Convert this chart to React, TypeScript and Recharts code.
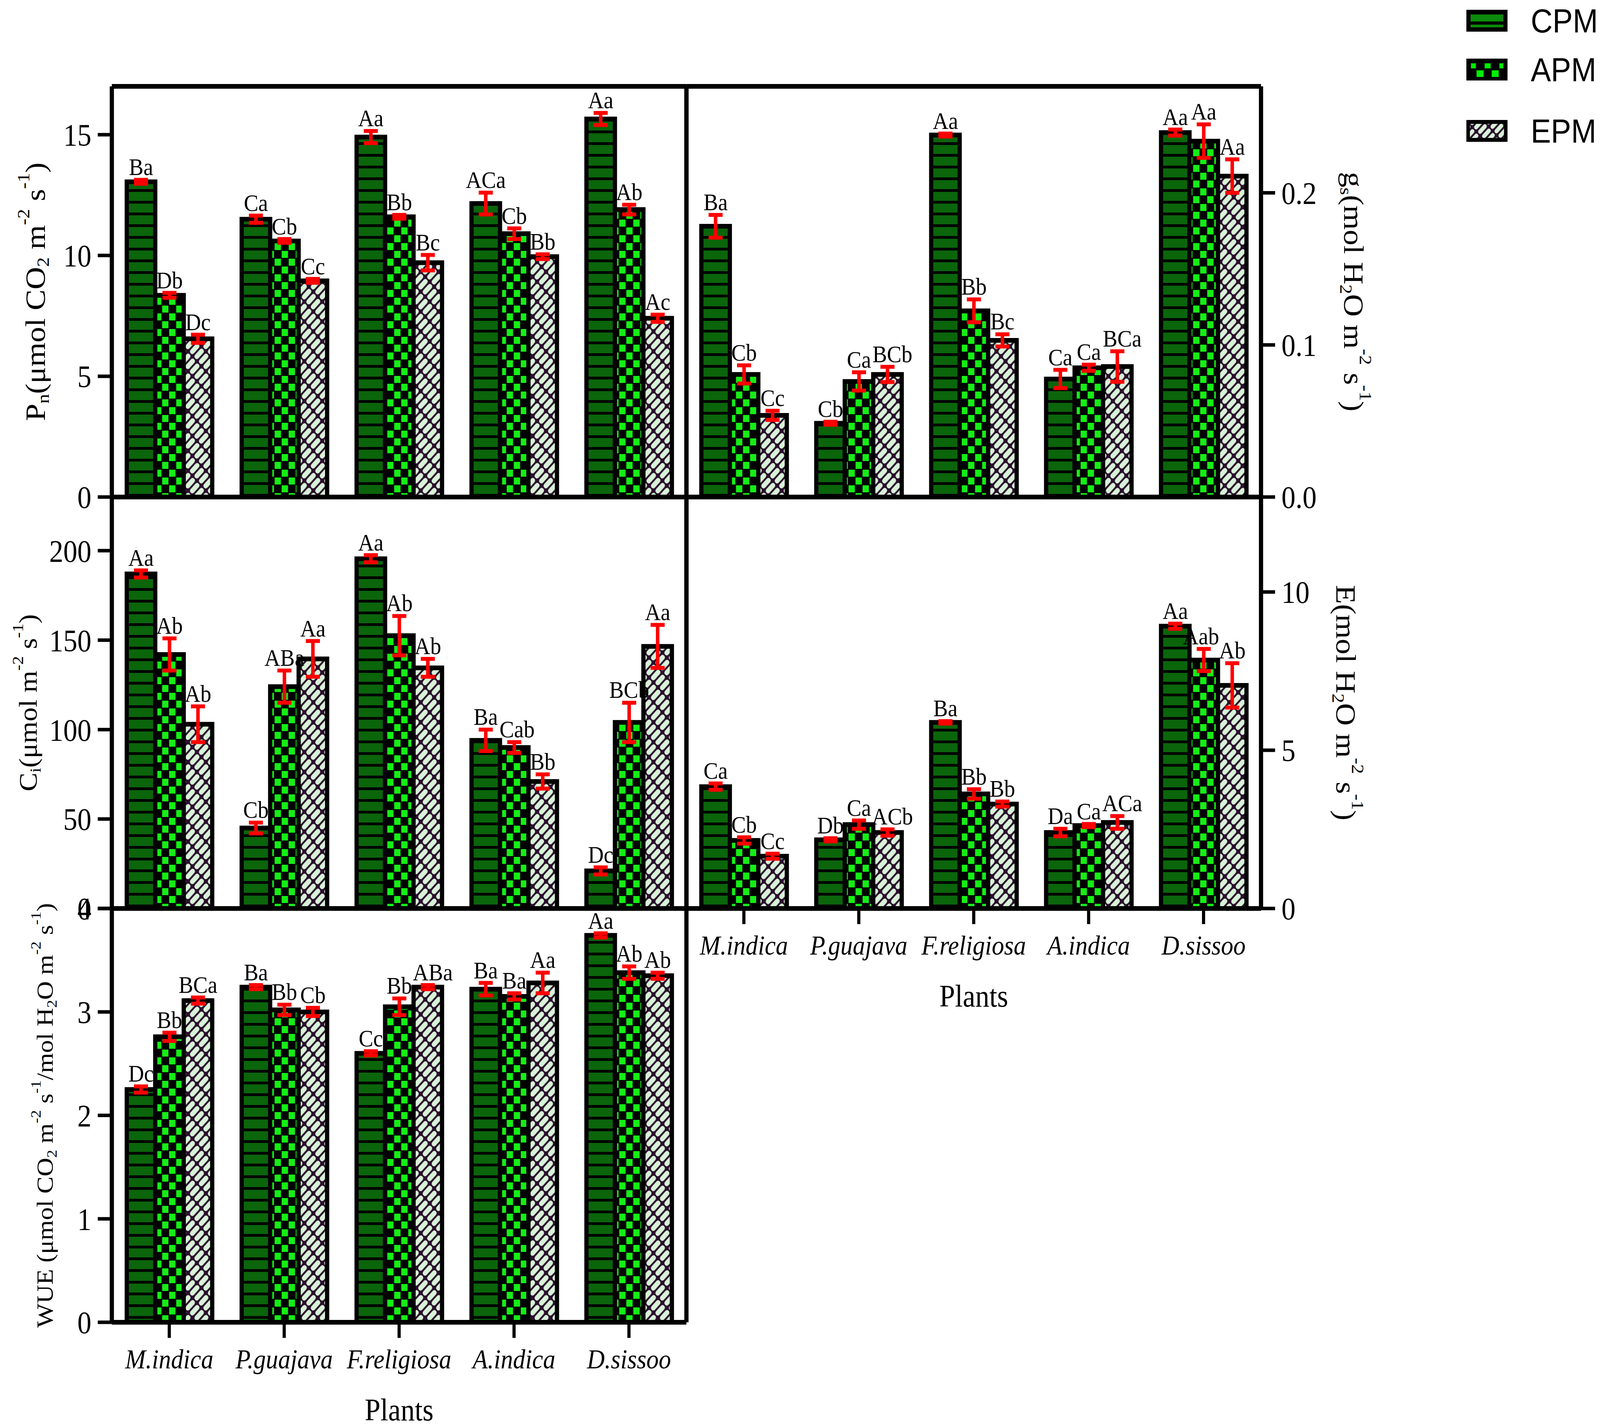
import React from "react";
import { BarChart, Bar, XAxis, YAxis, ErrorBar, LabelList, Legend } from "recharts";

// ---- data ----
const PLANTS = ["M.indica", "P.guajava", "F.religiosa", "A.indica", "D.sissoo"];
const SERIES = [
  { key: "cpm", name: "CPM" },
  { key: "apm", name: "APM" },
  { key: "epm", name: "EPM" },
];

// Pn
const PN_CPM = [13.05, 11.5, 14.9, 12.15, 15.65];
const PN_APM = [8.35, 10.6, 11.6, 10.9, 11.9];
const PN_EPM = [6.55, 8.95, 9.7, 9.95, 7.4];
const PN_CPM_ERR = [0.08, 0.15, 0.25, 0.45, 0.25];
const PN_APM_ERR = [0.1, 0.08, 0.08, 0.22, 0.2];
const PN_EPM_ERR = [0.17, 0.08, 0.32, 0.1, 0.15];
const PN_CPM_LBL = ["Ba", "Ca", "Aa", "ACa", "Aa"];
const PN_APM_LBL = ["Db", "Cb", "Bb", "Cb", "Ab"];
const PN_EPM_LBL = ["Dc", "Cc", "Bc", "Bb", "Ac"];

// gs
const GS_CPM = [0.178, 0.0485, 0.238, 0.0776, 0.2396];
const GS_APM = [0.0806, 0.076, 0.1224, 0.085, 0.234];
const GS_EPM = [0.0537, 0.0806, 0.103, 0.0858, 0.211];
const GS_CPM_ERR = [0.0075, 0.001, 0.001, 0.006, 0.002];
const GS_APM_ERR = [0.006, 0.006, 0.0075, 0.002, 0.011];
const GS_EPM_ERR = [0.003, 0.005, 0.004, 0.01, 0.011];
const GS_CPM_LBL = ["Ba", "Cb", "Aa", "Ca", "Aa"];
const GS_APM_LBL = ["Cb", "Ca", "Bb", "Ca", "Aa"];
const GS_EPM_LBL = ["Cc", "BCb", "Bc", "BCa", "Aa"];

// Ci
const CI_CPM = [187, 45, 195.5, 94, 21];
const CI_APM = [142, 124, 152.5, 90, 104];
const CI_EPM = [103, 139.5, 134.5, 71, 146.5];
const CI_CPM_ERR = [2, 3, 2, 6, 2];
const CI_APM_ERR = [9, 9, 11, 3, 11];
const CI_EPM_ERR = [10, 10, 5, 4, 12];
const CI_CPM_LBL = ["Aa", "Cb", "Aa", "Ba", "Dc"];
const CI_APM_LBL = ["Ab", "ABa", "Ab", "Cab", "BCb"];
const CI_EPM_LBL = ["Ab", "Aa", "Ab", "Bb", "Aa"];

// E
const E_CPM = [3.85, 2.17, 5.88, 2.4, 8.92];
const E_APM = [2.15, 2.65, 3.62, 2.62, 7.85];
const E_EPM = [1.65, 2.4, 3.3, 2.72, 7.05];
const E_CPM_ERR = [0.1, 0.05, 0.04, 0.12, 0.08];
const E_APM_ERR = [0.1, 0.13, 0.15, 0.05, 0.35];
const E_EPM_ERR = [0.08, 0.1, 0.08, 0.2, 0.7];
const E_CPM_LBL = ["Ca", "Db", "Ba", "Da", "Aa"];
const E_APM_LBL = ["Cb", "Ca", "Bb", "Ca", "Aab"];
const E_EPM_LBL = ["Cc", "ACb", "Bb", "ACa", "Ab"];

// WUE
const WUE_CPM = [2.25, 3.24, 2.6, 3.22, 3.74];
const WUE_APM = [2.76, 3.02, 3.05, 3.15, 3.38];
const WUE_EPM = [3.11, 3.0, 3.24, 3.28, 3.35];
const WUE_CPM_ERR = [0.03, 0.02, 0.02, 0.06, 0.02];
const WUE_APM_ERR = [0.04, 0.05, 0.08, 0.03, 0.06];
const WUE_EPM_ERR = [0.03, 0.04, 0.02, 0.1, 0.03];
const WUE_CPM_LBL = ["Dc", "Ba", "Cc", "Ba", "Aa"];
const WUE_APM_LBL = ["Bb", "Bb", "Bb", "Ba", "Ab"];
const WUE_EPM_LBL = ["BCa", "Cb", "ABa", "Aa", "Ab"];

const PN_TICKS = [0, 5, 10, 15];
const GS_TICKS = [0, 0.1, 0.2];
const CI_TICKS = [0, 50, 100, 150, 200];
const E_TICKS = [0, 5, 10];
const WUE_TICKS = [0, 1, 2, 3, 4];

type Seg = [string, ("sub" | "sup")?];
const PN_TITLE: Seg[] = [["P"], ["n", "sub"], ["(μmol CO"], ["2", "sub"], [" m"], ["-2", "sup"], [" s"], ["-1", "sup"], [")"]];
const GS_TITLE: Seg[] = [["g"], ["s", "sub"], ["(mol H"], ["2", "sub"], ["O m"], ["-2", "sup"], [" s"], ["-1", "sup"], [")"]];
const CI_TITLE: Seg[] = [["C"], ["i", "sub"], ["(μmol m"], ["-2", "sup"], [" s"], ["-1", "sup"], [")"]];
const E_TITLE: Seg[] = [["E(mol H"], ["2", "sub"], ["O m"], ["-2", "sup"], [" s"], ["-1", "sup"], [")"]];
const WUE_TITLE: Seg[] = [
  ["WUE (μmol CO"], ["2", "sub"], [" m"], ["-2", "sup"], [" s"], ["-1", "sup"],
  ["/mol H"], ["2", "sub"], ["O m"], ["-2", "sup"], [" s"], ["-1", "sup"], [")"],
];

function buildRows(vals: number[][], errs: number[][], lbls: string[][]) {
  return PLANTS.map((plant, i) => ({
    plant,
    cpm: vals[0][i], apm: vals[1][i], epm: vals[2][i],
    cpmErr: errs[0][i], apmErr: errs[1][i], epmErr: errs[2][i],
    cpmLbl: lbls[0][i], apmLbl: lbls[1][i], epmLbl: lbls[2][i],
  }));
}

const PN_ROWS = buildRows([PN_CPM, PN_APM, PN_EPM], [PN_CPM_ERR, PN_APM_ERR, PN_EPM_ERR], [PN_CPM_LBL, PN_APM_LBL, PN_EPM_LBL]);
const GS_ROWS = buildRows([GS_CPM, GS_APM, GS_EPM], [GS_CPM_ERR, GS_APM_ERR, GS_EPM_ERR], [GS_CPM_LBL, GS_APM_LBL, GS_EPM_LBL]);
const CI_ROWS = buildRows([CI_CPM, CI_APM, CI_EPM], [CI_CPM_ERR, CI_APM_ERR, CI_EPM_ERR], [CI_CPM_LBL, CI_APM_LBL, CI_EPM_LBL]);
const E_ROWS = buildRows([E_CPM, E_APM, E_EPM], [E_CPM_ERR, E_APM_ERR, E_EPM_ERR], [E_CPM_LBL, E_APM_LBL, E_EPM_LBL]);
const WUE_ROWS = buildRows([WUE_CPM, WUE_APM, WUE_EPM], [WUE_CPM_ERR, WUE_APM_ERR, WUE_EPM_ERR], [WUE_CPM_LBL, WUE_APM_LBL, WUE_EPM_LBL]);

// ---- layout / style ----
const W = 4550;
const H = 3652;
const LEFT_X0 = 318;
const MID_X = 1952;
const RIGHT_X1 = 3586;
const TOP_Y = 221;
const ROW1_Y = 1272;
const ROW2_Y = 2325;
const BOTTOM_Y = 3384;
const PAD = 60;
const X_AXIS_H = 300;
const LETTER_SIZE = 62;

const SERIF = '"Liberation Serif", "Times New Roman", serif';
const SANS = '"Liberation Sans", Arial, sans-serif';
const DARK_GREEN = "#0b650b";
const BRIGHT_GREEN = "#16ee16";
const MINT = "#d8f2d8";
const HATCH_DARK = "#2a0f2c";
const AXIS_LINE = { stroke: "#000", strokeWidth: 12 };
const TICK_LINE = { stroke: "#000", strokeWidth: 9 };

function AxisTitle({ cx, cy, rot, size, segs }: { cx: number; cy: number; rot: number; size: number; segs: Seg[] }) {
  let shift = 0;
  const spans = segs.map(([t, k], i) => {
    const target = k === "sub" ? 0.28 * size : k === "sup" ? -0.42 * size : 0;
    const dy = target - shift;
    shift = target;
    return (
      <tspan key={i} dy={dy} fontSize={k ? size * 0.62 : size}>
        {t}
      </tspan>
    );
  });
  return (
    <text
      transform={`translate(${cx},${cy}) rotate(${rot})`}
      textAnchor="middle"
      dominantBaseline="central"
      fontFamily={SERIF}
      fill="#000"
    >
      {spans}
    </text>
  );
}

function PlantsTitle({ cx, cy }: { cx: number; cy: number }) {
  return (
    <text x={cx} y={cy} textAnchor="middle" dominantBaseline="central" fontFamily={SERIF} fontSize={80} fill="#000">
      Plants
    </text>
  );
}

function Patterns({ id }: { id: string }) {
  return (
    <defs>
      <pattern id={`${id}-cpm`} width={20} height={30} patternUnits="userSpaceOnUse">
        <rect width={20} height={30} fill="#000" />
        <rect width={20} height={23} fill={DARK_GREEN} />
      </pattern>
      <pattern id={`${id}-apm`} width={40} height={40} patternUnits="userSpaceOnUse">
        <rect width={40} height={40} fill="#000" />
        <rect x={1} y={1} width={18} height={18} fill={BRIGHT_GREEN} />
        <rect x={21} y={21} width={18} height={18} fill={BRIGHT_GREEN} />
      </pattern>
      <pattern id={`${id}-epm`} width={36} height={18} patternUnits="userSpaceOnUse" patternTransform="rotate(-45)">
        <rect width={36} height={18} fill={HATCH_DARK} />
        <rect x={2} y={2.5} width={32} height={13} rx={6} fill={MINT} />
      </pattern>
    </defs>
  );
}

const LEGEND_LEFT = 4150;
const LEGEND_ROW_Y = [25, 150, 307];

function LegendBox() {
  return (
    <svg width={400} height={380} style={{ display: "block", overflow: "visible" }}>
      <defs>
        <pattern id="lg-epm" width={34} height={16} patternUnits="userSpaceOnUse" patternTransform="rotate(-45)">
          <rect width={34} height={16} fill={HATCH_DARK} />
          <rect x={2} y={2.5} width={30} height={11} rx={5} fill={MINT} />
        </pattern>
      </defs>
      {SERIES.map((s, i) => {
        const y = LEGEND_ROW_Y[i];
        return (
          <g key={s.key}>
            <rect x={20} y={y} width={117} height={56} fill="#000" />
            {s.key === "cpm" && (
              <g>
                <rect x={32} y={y + 12} width={93} height={18} fill="#0c8a0c" />
                <rect x={32} y={y + 38} width={93} height={7} fill="#0c8a0c" />
              </g>
            )}
            {s.key === "apm" && (
              <g fill="#00f000">
                <rect x={33} y={y + 12} width={14} height={13} />
                <rect x={72} y={y + 12} width={17} height={13} />
                <rect x={114} y={y + 12} width={11} height={13} />
                <rect x={49} y={y + 30} width={20} height={17} />
                <rect x={92} y={y + 30} width={20} height={17} />
              </g>
            )}
            {s.key === "epm" && <rect x={30} y={y + 10} width={97} height={36} fill="url(#lg-epm)" />}
            <text x={203} y={y + 28} dominantBaseline="central" fontFamily={SANS} fontSize={86} fill="#000">
              {s.name}
            </text>
          </g>
        );
      })}
    </svg>
  );
}

type Row = ReturnType<typeof buildRows>[number];
type Key = "cpm" | "apm" | "epm";

interface PanelProps {
  id: string;
  rows: Row[];
  max: number;
  ticks: number[];
  fmt?: (v: number) => string;
  side: "left" | "right";
  x0: number;
  x1: number;
  y0: number;
  y1: number;
  topBorder?: boolean;
  showX?: boolean;
  title: Seg[];
  titleX: number;
  titleSize: number;
  legend?: boolean;
}

function Panel({ id, rows, max, ticks, fmt, side, x0, x1, y0, y1, topBorder, showX, title, titleX, titleSize, legend }: PanelProps) {
  const chartLeft = side === "left" ? 0 : x0 - PAD;
  const chartTop = y0 - PAD;
  const width = side === "left" ? x1 + PAD : W - chartLeft;
  const plotH = y1 - y0;
  const xH = showX ? X_AXIS_H : 1;
  const height = plotH + PAD + (showX ? X_AXIS_H : PAD);
  // thin border axes take 1px, taken out of the margins
  const margin = {
    top: topBorder ? PAD - 1 : PAD,
    bottom: showX ? 0 : PAD - 1,
    left: side === "left" ? 0 : PAD - 1,
    right: side === "left" ? PAD - 1 : 0,
  };
  const yWidth = side === "left" ? x0 : W - x1;
  const ppu = plotH / max;

  // height (px) of the top of bar + error for a series in a row
  const topPx = (r: any, k: Key) => (r[k] + r[`${k}Err`]) * ppu;
  // nudge long letter groups sideways when a neighbour label sits at about the same height
  const nudge = (r: any, k: Key, text: string) => {
    if (!r || String(text).length < 3) return 0;
    const near = (a: Key, b: Key) => Math.abs(topPx(r, a) - topPx(r, b)) < 70;
    if (k === "epm" && near("epm", "apm")) return 14;
    if (k === "cpm" && near("cpm", "apm")) return -12;
    if (k === "apm" && near("apm", "epm")) return -8;
    if (k === "apm" && near("apm", "cpm")) return 8;
    return 0;
  };

  const letters = (key: Key) => (p: any) => {
    const idx = typeof p.index === "number" ? p.index : 0;
    const r: any = rows[idx];
    const err = r ? r[`${key}Err`] : 0;
    const x = Number(p.x) + Number(p.width) / 2 + nudge(r, key, p.value);
    const y = Number(p.y) - err * ppu - 12;
    return (
      <text x={x} y={y} textAnchor="middle" fontFamily={SERIF} fontSize={LETTER_SIZE} fill="#000">
        {p.value}
      </text>
    );
  };

  return (
    <div style={{ position: "absolute", left: chartLeft, top: chartTop }}>
      <BarChart width={width} height={height} data={rows} margin={margin} barCategoryGap="13%" barGap={0}>
        <Patterns id={id} />
        <XAxis
          xAxisId="x"
          dataKey="plant"
          interval={0}
          height={xH}
          axisLine={AXIS_LINE}
          tickLine={showX ? TICK_LINE : false}
          tickSize={40}
          tickMargin={28}
          tick={showX ? { fontFamily: SERIF, fontSize: 70, fontStyle: "italic", fill: "#000" } : false}
          label={showX ? <PlantsTitle cx={(x0 + x1) / 2 - chartLeft} cy={PAD + plotH + 224} /> : undefined}
        />
        {topBorder && (
          <XAxis xAxisId="top" dataKey="plant" orientation="top" height={1} axisLine={AXIS_LINE} tick={false} tickLine={false} />
        )}
        <YAxis
          yAxisId="v"
          orientation={side}
          width={yWidth}
          domain={[0, max]}
          ticks={ticks}
          interval={0}
          allowDataOverflow
          axisLine={AXIS_LINE}
          tickLine={TICK_LINE}
          tickSize={40}
          tickMargin={18}
          tickFormatter={fmt}
          tick={{ fontFamily: SERIF, fontSize: 80, fill: "#000" }}
          label={
            <AxisTitle
              cx={titleX - chartLeft}
              cy={PAD + plotH / 2}
              rot={side === "left" ? -90 : 90}
              size={titleSize}
              segs={title}
            />
          }
        />
        <YAxis
          yAxisId="edge"
          orientation={side === "left" ? "right" : "left"}
          width={1}
          domain={[0, 1]}
          axisLine={AXIS_LINE}
          tick={false}
          tickLine={false}
        />
        {SERIES.map((s) => (
          <Bar
            key={s.key}
            xAxisId="x"
            yAxisId="v"
            dataKey={s.key}
            name={s.name}
            fill={`url(#${id}-${s.key})`}
            stroke="#000"
            strokeWidth={12}
            isAnimationActive={false}
          >
            <ErrorBar dataKey={`${s.key}Err`} width={20} strokeWidth={10} stroke="#ff0000" isAnimationActive={false} />
            <LabelList dataKey={`${s.key}Lbl`} content={letters(s.key as Key)} />
          </Bar>
        ))}
        {legend && (
          <Legend
            layout="horizontal"
            align="center"
            verticalAlign="middle"
            content={() => <LegendBox />}
            wrapperStyle={{ position: "absolute", left: LEGEND_LEFT - chartLeft, top: -chartTop, width: 400, height: 380 }}
          />
        )}
      </BarChart>
    </div>
  );
}

export default function App() {
  // map the 4550x3652 layout onto whatever the viewport really is
  const vw = typeof window !== "undefined" && window.innerWidth ? window.innerWidth : W;
  const vh = typeof window !== "undefined" && window.innerHeight ? window.innerHeight : H;
  const sx = vw / W;
  const sy = vh / H;
  return (
    <div style={{ position: "fixed", left: 0, top: 0, width: vw, height: vh, overflow: "hidden", background: "#fff" }}>
      <div
        style={{
          position: "absolute",
          left: 0,
          top: 0,
          width: W,
          height: H,
          background: "#fff",
          transform: `scale(${sx}, ${sy})`,
          transformOrigin: "0 0",
        }}
      >
        <Panel id="pn" rows={PN_ROWS} max={17} ticks={PN_TICKS} side="left" x0={LEFT_X0} x1={MID_X} y0={TOP_Y} y1={ROW1_Y} topBorder title={PN_TITLE} titleX={100} titleSize={80} />
        <Panel id="gs" rows={GS_ROWS} max={0.27} ticks={GS_TICKS} fmt={(v) => v.toFixed(1)} side="right" x0={MID_X} x1={RIGHT_X1} y0={TOP_Y} y1={ROW1_Y} topBorder title={GS_TITLE} titleX={3850} titleSize={80} legend />
        <Panel id="ci" rows={CI_ROWS} max={230} ticks={CI_TICKS} side="left" x0={LEFT_X0} x1={MID_X} y0={ROW1_Y} y1={ROW2_Y} title={CI_TITLE} titleX={80} titleSize={72} />
        <Panel id="e" rows={E_ROWS} max={13} ticks={E_TICKS} side="right" x0={MID_X} x1={RIGHT_X1} y0={ROW1_Y} y1={ROW2_Y} showX title={E_TITLE} titleX={3828} titleSize={80} />
        <Panel id="wue" rows={WUE_ROWS} max={4} ticks={WUE_TICKS} side="left" x0={LEFT_X0} x1={MID_X} y0={ROW2_Y} y1={BOTTOM_Y} showX title={WUE_TITLE} titleX={128} titleSize={66} />
      </div>
    </div>
  );
}
